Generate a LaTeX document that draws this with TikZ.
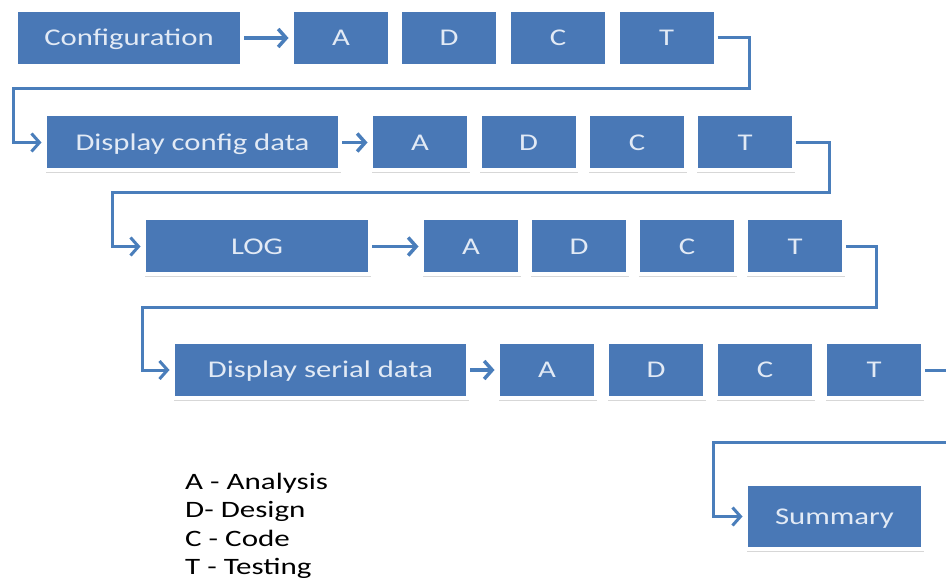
\documentclass[tikz,border=0pt]{standalone}
\usepackage{fontspec}
\setmainfont{Carlito}
\newfontfamily\boxfont[FakeStretch=1.28]{Carlito}
\newfontfamily\legendfont[FakeStretch=1.32]{Carlito}
\usetikzlibrary{arrows.meta,shadows}
\definecolor{boxblue}{RGB}{73,120,182}
\definecolor{lineblue}{RGB}{74,126,187}
\definecolor{boxtext}{RGB}{226,234,245}
\begin{document}
\begin{tikzpicture}[x=1pt,y=-1pt,
  blk/.style={rectangle, fill=boxblue, draw=white, line width=4pt, inner sep=0pt,
    minimum height=56pt, text=boxtext, font=\boxfont\fontsize{24}{28}\selectfont,
    text height=15.5pt, text depth=0pt,
    drop shadow={shadow xshift=0.6pt, shadow yshift=-2.5pt, opacity=0.35, fill=black!45}},
  sm/.style={blk, minimum width=98pt},
  conn/.style={draw=lineblue, line width=3pt, line join=miter},
  arr/.style={conn, -{Straight Barb[length=8pt,width=18pt]}, shorten >=1.5pt},
  harr/.style={arr, line width=3.5pt}]
\useasboundingbox (0,0) rectangle (946,580);
\clip (0,0) rectangle (946,580);
% row 1
\node[blk, minimum width=226pt] (cfg) at (129,38) {Configuration};
\node[sm] (A1) at (341,38) {A};
\node[sm] (D1) at (449,38) {D};
\node[sm] (C1) at (558,38) {C};
\node[sm] (T1) at (666.5,38) {T};
% row 2
\node[blk, minimum width=295pt] (dcd) at (192.5,142.5) {Display config data};
\node[sm] (A2) at (420,142.5) {A};
\node[sm] (D2) at (528.5,142.5) {D};
\node[sm] (C2) at (637,142.5) {C};
\node[sm] (T2) at (745,142.5) {T};
% row 3
\node[blk, minimum width=226pt] (log) at (257,246.5) {LOG};
\node[sm] (A3) at (471,246.5) {A};
\node[sm] (D3) at (579,246.5) {D};
\node[sm] (C3) at (687,246.5) {C};
\node[sm] (T3) at (795,246.5) {T};
% row 4
\node[blk, minimum width=295pt] (dsd) at (320.5,370) {Display serial data};
\node[sm] (A4) at (547,370) {A};
\node[sm] (D4) at (656,370) {D};
\node[sm] (C4) at (765,370) {C};
\node[sm] (T4) at (874,370) {T};
% summary
\node[blk, minimum width=177pt, minimum height=65pt] (sum) at (834.5,516.5) {Summary};
% arrows within rows
\draw[harr] (cfg.east) -- (A1.west);
\draw[harr] (dcd.east) -- (A2.west);
\draw[harr] (log.east) -- (A3.west);
\draw[harr] (dsd.east) -- (A4.west);
% row-to-row connectors
\draw[arr] (T1.east) -- ++(32,0) |- (13,89) |- (dcd.west);
\draw[arr] (T2.east) -- ++(33,0) |- (112,193) |- (log.west);
\draw[arr] (T3.east) -- ++(30,0) |- (142,308) |- (dsd.west);
\draw[arr] (T4.east) -- ++(30,0) |- (713,442) |- (sum.west);
% legend
\node[anchor=north west, align=left, inner sep=0pt, text=black,
  font=\legendfont\fontsize{23.5}{28.5}\selectfont] (legend) at (185,472.5)
  {A - Analysis\\D- Design\\C - Code\\T - Testing};
\end{tikzpicture}
\end{document}
